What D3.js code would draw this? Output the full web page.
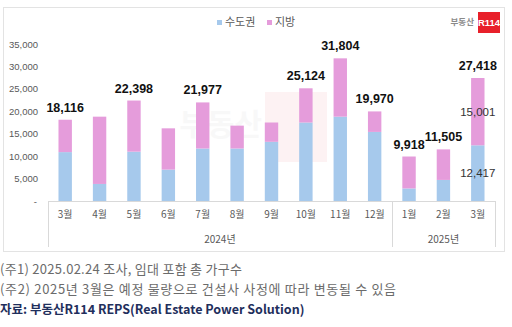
<!DOCTYPE html>
<html><head><meta charset="utf-8">
<script src="https://cdn.jsdelivr.net/npm/d3@7"></script>
<style>
html,body{margin:0;padding:0;background:#fff;}
svg{display:block;}
</style></head>
<body>
<svg id="c" width="512" height="327"></svg>
<script>
const months = ["3월","4월","5월","6월","7월","8월","9월","10월","11월","12월","1월","2월","3월"];
const years = [{label:"2024년", from:0, to:9},{label:"2025년", from:10, to:12}];
const capital = [10900, 3800, 11000, 7000, 11700, 11700, 13200, 17500, 18800, 15400, 2800, 4700, 12417];
const local   = [7216, 15000, 11398, 9200, 10277, 5100, 4300, 7624, 13004, 4570, 7118, 6805, 15001];
const totalLabels = ["18,116", null, "22,398", null, "21,977", null, null, "25,124", "31,804", "19,970", "9,918", "11,505", "27,418"];
const seriesNames = ["수도권","지방"];
const colors = ["#a6c9ec","#e59cdb"];
const yTicks = [0,5000,10000,15000,20000,25000,30000,35000];
const notes = ["(주1) 2025.02.24 조사, 임대 포함 총 가구수","(주2) 2025년 3월은 예정 물량으로 건설사 사정에 따라 변동될 수 있음"];
const source = "자료: 부동산R114 REPS(Real Estate Power Solution)";

const svg = d3.select("#c");
const FONT = "'Noto Sans CJK KR','Noto Sans',sans-serif";
const NUMF = "'Liberation Sans',Arial,sans-serif";

// chart border
svg.append("rect").attr("x",3.5).attr("y",7.5).attr("width",501).attr("height",244)
  .attr("fill","#fff").attr("stroke","#e3e3e3");

const idx = months.map((m,i)=>i);
const x = d3.scaleBand().domain(idx).range([48,495]).paddingInner(0.61).paddingOuter(0.305);
const y = d3.scaleLinear().domain([0,35000]).range([201,44]);

// watermark (faint)
const wm = svg.append("g").attr("opacity",0.05);
wm.append("rect").attr("x",265).attr("y",92).attr("width",62).attr("height",70).attr("fill","#e8202a");
wm.append("text").attr("x",262).attr("y",135).attr("text-anchor","end").attr("font-family",FONT)
  .attr("font-weight",700).attr("font-size",30).attr("fill","#888").text("부동산");

// y axis
const yAxis = d3.axisLeft(y).tickValues(yTicks).tickSize(0).tickPadding(0)
  .tickFormat(d => d===0 ? "-" : d3.format(",")(d));
const ya = svg.append("g").attr("transform","translate(38,0)").call(yAxis);
ya.select(".domain").remove();
ya.selectAll("text").attr("font-family",NUMF).attr("font-size",9.5).attr("fill","#595959");
ya.selectAll(".tick").filter(d=>d===0).select("text").attr("dx",-1);

// x axis
const xAxis = d3.axisBottom(x).tickSize(0).tickPadding(10).tickFormat(i=>months[i]);
const xa = svg.append("g").attr("transform","translate(0,201)").call(xAxis);
xa.select(".domain").attr("stroke","#d9d9d9").attr("d","M48,0.5H495");
xa.selectAll("text").attr("font-family",FONT).attr("font-size",10).attr("fill","#595959");

// separators & year labels
const seps = [48, x(10) - x.step()*x.paddingInner()/2, 495];
svg.selectAll("line.sep").data(seps).join("line").attr("class","sep")
  .attr("x1",d=>Math.round(d)+0.5).attr("x2",d=>Math.round(d)+0.5).attr("y1",201).attr("y2",247)
  .attr("stroke","#d9d9d9");
svg.selectAll("text.yr").data(years).join("text").attr("class","yr")
  .attr("x",d=>(x(d.from)+x(d.to)+x.bandwidth())/2).attr("y",243)
  .attr("text-anchor","middle").attr("font-family",FONT).attr("font-size",10).attr("fill","#595959")
  .text(d=>d.label);

// stacked bars
const data = idx.map(i=>({i, capital:capital[i], local:local[i]}));
const stack = d3.stack().keys(["capital","local"])(data);
svg.selectAll("g.series").data(stack).join("g").attr("class","series")
  .attr("fill",(d,k)=>colors[k])
  .selectAll("rect").data(d=>d).join("rect")
  .attr("x",d=>x(d.data.i)).attr("width",x.bandwidth())
  .attr("y",d=>y(d[1])).attr("height",d=>y(d[0])-y(d[1]));

// total labels
svg.selectAll("text.tot").data(data.filter(d=>totalLabels[d.i])).join("text").attr("class","tot")
  .attr("x",d=>x(d.i)+x.bandwidth()/2).attr("y",d=>y(d.capital+d.local)-8)
  .attr("text-anchor","middle").attr("font-family",NUMF).attr("font-weight",700)
  .attr("font-size",12.5).attr("fill","#111").text(d=>totalLabels[d.i]);

// inner labels for last bar
const last = data[data.length-1];
const inner = [
  {v:last.capital, yc:(y(0)+y(last.capital))/2},
  {v:last.local, yc:(y(last.capital)+y(last.capital+last.local))/2}
];
svg.selectAll("text.inn").data(inner).join("text").attr("class","inn")
  .attr("x",x(last.i)+x.bandwidth()/2).attr("y",d=>d.yc).attr("dy","0.35em")
  .attr("text-anchor","middle").attr("font-family",NUMF).attr("font-size",11.5).attr("fill","#333")
  .text(d=>d3.format(",")(d.v));

// legend
const lg = svg.append("g");
const lx = [217, 267];
seriesNames.forEach((n,k)=>{
  lg.append("rect").attr("x",lx[k]).attr("y",20).attr("width",5).attr("height",5).attr("fill",colors[k]);
  lg.append("text").attr("x",lx[k]+8).attr("y",22.5).attr("dy","0.35em").attr("font-family",FONT)
    .attr("font-size",11).attr("fill","#595959").text(n);
});

// logo
svg.append("text").attr("x",474).attr("y",22.5).attr("dy","0.35em").attr("text-anchor","end")
  .attr("font-family",FONT).attr("font-weight",700).attr("font-size",8.5).attr("fill","#8a8a8a").text("부동산");
svg.append("rect").attr("x",478).attr("y",12).attr("width",22).attr("height",21).attr("fill","#e8202a");
svg.append("text").attr("x",489).attr("y",22.5).attr("dy","0.35em").attr("text-anchor","middle")
  .attr("font-family",NUMF).attr("font-weight",700).attr("font-size",9.5).attr("fill","#fff").text("R114");

// footnotes
const noteLens = [242, 396];
svg.selectAll("text.note").data(notes).join("text").attr("class","note")
  .attr("x",0).attr("y",(d,k)=>269+k*20).attr("dy","0.35em")
  .attr("textLength",(d,k)=>noteLens[k]).attr("lengthAdjust","spacing")
  .attr("font-family",FONT).attr("font-size",13).attr("fill","#6b6b6b").text(d=>d);
svg.append("text").attr("x",0).attr("y",310).attr("dy","0.35em")
  .attr("font-family",FONT).attr("font-weight",700).attr("font-size",12.5).attr("fill","#1f2f5c").text(source);
</script>
</body></html>
